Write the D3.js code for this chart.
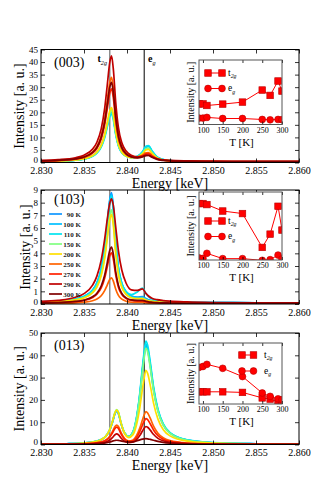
<!DOCTYPE html>
<html>
<head>
<meta charset="utf-8">
<script src="https://cdn.jsdelivr.net/npm/d3@7"></script>
<style>
  body { margin: 0; background: #fff; }
  svg { display: block; font-family: "Liberation Serif", "Times New Roman", serif; }
</style>
</head>
<body>
<div id="chart"></div>
<script>

// ---- data ----
var temps = [ 90, 100, 110, 150, 200, 250, 270, 290, 300 ];
var tempLabels = [ '90 K', '100 K', '110 K', '150 K', '200 K', '250 K', '270 K', '290 K', '300 K' ];
var tempColors = [ '#0f96ff', '#00c0ff', '#00e4f0', '#80ff80', '#ffe000', '#ff6400', '#ff2200', '#c00000', '#800000' ];

var energyTicks = [ 2.830, 2.835, 2.840, 2.845, 2.850, 2.855, 2.860 ];

// energies used for (003) and (103)
var energy003 = [ 2.830, 2.832, 2.834, 2.835, 2.836, 2.8365, 2.837, 2.8374, 2.8377, 2.8380, 2.8382, 2.8384, 2.8387, 2.8390,
  2.8394, 2.8399, 2.8405, 2.8412, 2.8418, 2.8422, 2.8425, 2.8429, 2.8435, 2.8442, 2.845, 2.847, 2.850, 2.855, 2.860 ];

var spectra003 = [
  [ 0.42, 0.57, 0.96, 1.46, 2.68, 4.0, 6.62, 10.6, 15.1, 19.6, 20.9, 18.5, 11.6, 7.0, 4.1, 2.6, 2.0, 2.4, 4.1, 6.1, 6.4, 4.5, 2.15, 1.16, 0.75, 0.42, 0.30, 0.25, 0.23 ],
  [ 0.41, 0.56, 0.94, 1.43, 2.61, 3.9, 6.46, 10.3, 14.7, 19.2, 20.4, 18.0, 11.4, 6.9, 4.0, 2.55, 2.0, 2.4, 4.2, 6.2, 6.5, 4.5, 2.17, 1.17, 0.74, 0.42, 0.30, 0.24, 0.22 ],
  [ 0.39, 0.53, 0.90, 1.36, 2.49, 3.72, 6.15, 9.8, 14.0, 18.2, 19.4, 17.2, 10.8, 6.55, 3.83, 2.47, 1.99, 2.44, 4.3, 6.46, 6.77, 4.69, 2.23, 1.19, 0.74, 0.41, 0.29, 0.23, 0.21 ],
  [ 0.42, 0.57, 0.96, 1.46, 2.67, 3.99, 6.61, 10.56, 15.06, 19.6, 20.85, 18.46, 11.6, 7.0, 4.05, 2.54, 1.95, 2.22, 3.72, 5.49, 5.73, 3.99, 1.95, 1.07, 0.70, 0.40, 0.30, 0.25, 0.23 ],
  [ 0.43, 0.59, 1.0, 1.52, 2.79, 4.18, 6.92, 11.06, 15.77, 20.57, 21.85, 19.34, 12.17, 7.31, 4.2, 2.6, 1.94, 2.11, 3.41, 4.97, 5.17, 3.62, 1.8, 1.01, 0.67, 0.41, 0.30, 0.25, 0.24 ],
  [ 0.66, 0.90, 1.53, 2.33, 4.29, 6.44, 10.7, 17.15, 24.49, 31.94, 33.93, 30.01, 18.8, 11.22, 6.32, 3.75, 2.51, 2.21, 2.89, 3.83, 3.91, 2.84, 1.59, 1.02, 0.76, 0.54, 0.44, 0.38, 0.36 ],
  [ 0.57, 0.78, 1.33, 2.02, 3.71, 5.58, 9.27, 14.85, 21.2, 27.65, 29.37, 25.99, 16.28, 9.72, 5.49, 3.26, 2.2, 1.96, 2.59, 3.47, 3.55, 2.57, 1.42, 0.90, 0.67, 0.47, 0.38, 0.33, 0.31 ],
  [ 0.82, 1.12, 1.90, 2.91, 5.35, 8.05, 13.39, 21.46, 30.66, 39.99, 42.47, 37.57, 23.51, 13.98, 7.83, 4.55, 2.92, 2.27, 2.47, 2.96, 2.96, 2.25, 1.42, 1.02, 0.82, 0.63, 0.53, 0.47, 0.45 ],
  [ 0.62, 0.84, 1.43, 2.19, 4.02, 6.05, 10.05, 16.11, 23.0, 30.01, 31.88, 28.19, 17.65, 10.51, 5.9, 3.46, 2.26, 1.85, 2.18, 2.75, 2.78, 2.06, 1.23, 0.84, 0.66, 0.48, 0.40, 0.36, 0.34 ]
];

var spectra103 = [
  [ 0.17, 0.23, 0.39, 0.60, 1.11, 1.67, 2.77, 4.44, 6.35, 8.28, 8.80, 7.78, 4.87, 2.89, 1.62, 0.94, 0.62, 0.55, 0.58, 0.43, 0.34, 0.26, 0.21, 0.18, 0.15, 0.13, 0.11, 0.10, 0.09 ],
  [ 0.17, 0.23, 0.39, 0.59, 1.09, 1.64, 2.72, 4.37, 6.24, 8.14, 8.64, 7.64, 4.78, 2.84, 1.59, 0.92, 0.60, 0.51, 0.52, 0.39, 0.31, 0.25, 0.20, 0.17, 0.15, 0.12, 0.11, 0.10, 0.09 ],
  [ 0.17, 0.23, 0.38, 0.59, 1.08, 1.62, 2.69, 4.30, 6.15, 8.01, 8.51, 7.53, 4.73, 2.83, 1.61, 0.98, 0.74, 0.95, 1.25, 0.83, 0.58, 0.40, 0.27, 0.21, 0.17, 0.13, 0.11, 0.10, 0.09 ],
  [ 0.14, 0.20, 0.33, 0.51, 0.94, 1.41, 2.34, 3.75, 5.36, 7.0, 7.43, 6.57, 4.11, 2.44, 1.37, 0.79, 0.51, 0.43, 0.44, 0.33, 0.26, 0.21, 0.17, 0.15, 0.13, 0.11, 0.09, 0.08, 0.08 ],
  [ 0.14, 0.19, 0.32, 0.48, 0.89, 1.34, 2.23, 3.57, 5.11, 6.66, 7.08, 6.26, 3.91, 2.33, 1.30, 0.76, 0.49, 0.42, 0.42, 0.32, 0.26, 0.21, 0.17, 0.14, 0.12, 0.10, 0.09, 0.08, 0.07 ],
  [ 0.04, 0.05, 0.09, 0.14, 0.26, 0.39, 0.65, 1.05, 1.49, 1.95, 2.07, 1.83, 1.15, 0.68, 0.38, 0.22, 0.14, 0.12, 0.12, 0.09, 0.07, 0.06, 0.05, 0.04, 0.03, 0.03, 0.03, 0.02, 0.02 ],
  [ 0.08, 0.11, 0.18, 0.28, 0.51, 0.77, 1.27, 2.04, 2.92, 3.81, 4.04, 3.58, 2.24, 1.33, 0.74, 0.43, 0.28, 0.23, 0.23, 0.17, 0.14, 0.11, 0.09, 0.08, 0.07, 0.06, 0.05, 0.04, 0.04 ],
  [ 0.21, 0.29, 0.53, 0.82, 1.49, 2.20, 3.46, 5.10, 6.66, 7.97, 8.30, 7.82, 6.01, 4.22, 2.66, 1.64, 1.12, 1.07, 1.20, 0.84, 0.63, 0.46, 0.34, 0.27, 0.22, 0.16, 0.12, 0.10, 0.09 ],
  [ 0.09, 0.12, 0.20, 0.31, 0.57, 0.85, 1.42, 2.27, 3.25, 4.24, 4.50, 3.98, 2.49, 1.48, 0.83, 0.48, 0.32, 0.28, 0.29, 0.22, 0.17, 0.14, 0.11, 0.09, 0.08, 0.06, 0.05, 0.05, 0.05 ]
];

var energy013 = [ 2.830, 2.833, 2.835, 2.836, 2.837, 2.8375, 2.838, 2.8383, 2.8386, 2.8388, 2.839, 2.8393, 2.8397, 2.8402, 2.8407,
  2.8411, 2.8415, 2.8418, 2.8420, 2.8422, 2.8424, 2.8427, 2.8431, 2.8436, 2.8442, 2.845, 2.847, 2.850, 2.855, 2.860 ];

var spectra013 = [
  [ 0.17, 0.33, 0.66, 1.10, 2.17, 3.49, 6.49, 9.80, 13.72, 14.90, 13.85, 9.44, 5.21, 3.54, 5.55, 11.43, 22.28, 33.26, 39.83, 44.21, 42.44, 35.39, 24.37, 15.12, 8.94, 5.10, 1.95, 0.78, 0.31, 0.16 ],
  [ 0.18, 0.33, 0.67, 1.11, 2.19, 3.52, 6.54, 9.88, 13.83, 15.02, 13.97, 9.52, 5.26, 3.59, 5.64, 11.63, 22.69, 33.86, 40.55, 45.02, 43.21, 36.03, 24.81, 15.39, 9.10, 5.19, 1.98, 0.79, 0.31, 0.16 ],
  [ 0.18, 0.34, 0.68, 1.14, 2.24, 3.60, 6.69, 10.09, 14.12, 15.34, 14.26, 9.73, 5.38, 3.69, 5.81, 11.99, 23.39, 34.91, 41.81, 46.42, 44.55, 37.15, 25.59, 15.87, 9.39, 5.35, 2.04, 0.81, 0.32, 0.17 ],
  [ 0.18, 0.33, 0.68, 1.14, 2.26, 3.66, 6.82, 10.31, 14.45, 15.69, 14.57, 9.90, 5.40, 3.59, 5.48, 11.20, 21.80, 32.52, 38.94, 43.23, 41.49, 34.60, 23.83, 14.79, 8.75, 4.99, 1.91, 0.76, 0.30, 0.16 ],
  [ 0.16, 0.30, 0.63, 1.06, 2.16, 3.53, 6.65, 10.11, 14.20, 15.43, 14.30, 9.63, 5.10, 3.12, 4.38, 8.70, 16.80, 25.02, 29.94, 33.22, 31.89, 26.59, 18.33, 11.38, 6.75, 3.86, 1.49, 0.60, 0.24, 0.13 ],
  [ 0.08, 0.16, 0.34, 0.58, 1.19, 1.97, 3.75, 5.72, 8.04, 8.73, 8.08, 5.41, 2.79, 1.59, 2.03, 3.91, 7.47, 11.10, 13.28, 14.73, 14.14, 11.79, 8.13, 5.06, 3.01, 1.73, 0.67, 0.28, 0.11, 0.06 ],
  [ 0.07, 0.14, 0.29, 0.50, 1.05, 1.75, 3.33, 5.09, 7.17, 7.78, 7.20, 4.80, 2.45, 1.35, 1.65, 3.10, 5.90, 8.76, 10.47, 11.61, 11.15, 9.30, 6.42, 3.99, 2.38, 1.37, 0.54, 0.22, 0.09, 0.05 ],
  [ 0.04, 0.09, 0.18, 0.31, 0.65, 1.07, 2.03, 3.09, 4.35, 4.73, 4.38, 2.93, 1.51, 0.87, 1.11, 2.14, 4.09, 6.08, 7.27, 8.07, 7.74, 6.46, 4.46, 2.77, 1.65, 0.95, 0.37, 0.15, 0.06, 0.03 ],
  [ 0.05, 0.1, 0.2, 0.3, 0.5, 0.7, 1.1, 1.5, 1.8, 1.9, 1.85, 1.6, 1.3, 1.1, 1.2, 1.6, 2.1, 2.4, 2.55, 2.6, 2.55, 2.3, 1.9, 1.4, 0.95, 0.6, 0.25, 0.1, 0.04, 0.02 ]
];

// inset values (arbitrary units, fraction of inset height)
var insetT2g003 = [ 0.32, 0.32, 0.295, 0.316, 0.347, 0.534, 0.451, 0.674, 0.518 ];
var insetEg003  = [ 0.10, 0.10, 0.11, 0.093, 0.093, 0.078, 0.073, 0.078, 0.075 ];
var insetT2g103 = [ 0.83, 0.83, 0.815, 0.72, 0.683, 0.185, 0.38, 0.79, 0.44 ];
var insetEg103  = [ 0.03, 0.024, 0.098, 0.02, 0.02, -0.005, 0.005, 0.073, 0.015 ];
var insetT2g013 = [ 0.20, 0.20, 0.20, 0.20, 0.19, 0.10, 0.08, 0.035, 0.01 ];
var insetEg013  = [ 0.60, 0.615, 0.65, 0.585, 0.45, 0.18, 0.125, 0.085, 0.07 ];

// ---- layout ----
var width = 332, height = 495;
var xLeft = 41, xRight = 299;
var insetLeft = 199, insetRight = 282;

var panels = [
  { name: '(003)', top: 49.5, bottom: 162.5, yMax: 45, yStep: 5, energy: energy003, series: spectra003,
    labelDy: 17, ylabelX: 19, orbitalLabels: true, legend: false,
    inset: { top: 60, bottom: 124.5, t2g: insetT2g003, eg: insetEg003, lx1: 208, lx2: 222, ly1: 73, ly2: 88.5, tx: 228 } },
  { name: '(103)', top: 190, bottom: 304, yMax: 9, yStep: 1, energy: energy003, series: spectra103,
    labelDy: 13.5, ylabelX: 25, orbitalLabels: false, legend: true,
    inset: { top: 192, bottom: 260, t2g: insetT2g103, eg: insetEg103, lx1: 208, lx2: 222, ly1: 221, ly2: 236.5, tx: 228 } },
  { name: '(013)', top: 333, bottom: 444.5, yMax: 50, yStep: 10, energy: energy013, series: spectra013,
    labelDy: 17, ylabelX: 19, orbitalLabels: false, legend: false,
    inset: { top: 343, bottom: 404, t2g: insetT2g013, eg: insetEg013, lx1: 242, lx2: 253.5, ly1: 355, ly2: 371, tx: 264 } }
];

var svg = d3.select( '#chart' ).append( 'svg' )
  .attr( 'width', width )
  .attr( 'height', height );

svg.append( 'rect' ).attr( 'width', width ).attr( 'height', height ).attr( 'fill', '#fff' );

var defs = svg.append( 'defs' );

var xScale = d3.scaleLinear().domain( [ 2.830, 2.860 ] ).range( [ xLeft, xRight ] );

function styleAxis( sel, size ) {
  sel.select( '.domain' ).remove();
  sel.selectAll( 'text' )
    .attr( 'font-family', '"Liberation Serif", "Times New Roman", serif' )
    .attr( 'font-size', size )
    .attr( 'fill', '#000' );
  sel.selectAll( 'line' ).attr( 'stroke', '#000' ).attr( 'stroke-width', 0.8 );
}

function subText( sel, x, y, main, sub, size, bold ) {
  var t = sel.append( 'text' ).attr( 'x', x ).attr( 'y', y ).attr( 'font-size', size ).attr( 'fill', '#000' );
  t.append( 'tspan' ).text( main ).attr( 'font-weight', bold ? 'bold' : null );
  t.append( 'tspan' ).text( sub ).attr( 'font-size', size * 0.62 ).attr( 'dy', size * 0.3 ).attr( 'font-style', 'italic' );
  return t;
}

function drawPanel( p, idx ) {

  var yScale = d3.scaleLinear().domain( [ 0, p.yMax ] ).range( [ p.bottom, p.top ] );
  var yTicks = d3.range( 0, p.yMax + p.yStep / 2, p.yStep );

  var g = svg.append( 'g' );

  defs.append( 'clipPath' ).attr( 'id', 'clip' + idx )
    .append( 'rect' )
      .attr( 'x', xLeft ).attr( 'y', p.top )
      .attr( 'width', xRight - xLeft ).attr( 'height', p.bottom - p.top );

  // reference lines at t2g and eg energies
  g.append( 'line' )
    .attr( 'x1', xScale( 2.838 ) ).attr( 'x2', xScale( 2.838 ) )
    .attr( 'y1', p.top ).attr( 'y2', p.bottom )
    .attr( 'stroke', '#707070' ).attr( 'stroke-width', 1.2 );
  g.append( 'line' )
    .attr( 'x1', xScale( 2.842 ) ).attr( 'x2', xScale( 2.842 ) )
    .attr( 'y1', p.top ).attr( 'y2', p.bottom )
    .attr( 'stroke', '#000' ).attr( 'stroke-width', 1 );

  var line = d3.line()
    .x( ( d, i ) => xScale( p.energy[ i ] ) )
    .y( d => yScale( d ) )
    .curve( d3.curveMonotoneX );

  g.append( 'g' )
    .attr( 'clip-path', 'url(#clip' + idx + ')' )
    .selectAll( 'path' )
    .data( p.series )
    .enter()
    .append( 'path' )
      .attr( 'd', line )
      .attr( 'fill', 'none' )
      .attr( 'stroke', ( d, i ) => tempColors[ i ] )
      .attr( 'stroke-width', 1.7 )
      .attr( 'stroke-linejoin', 'round' );

  // axes, ticks pointing inward
  g.append( 'g' )
    .attr( 'transform', 'translate(0,' + p.bottom + ')' )
    .call( d3.axisBottom( xScale ).tickValues( energyTicks ).tickFormat( d3.format( '.3f' ) )
      .tickSizeInner( -4 ).tickSizeOuter( 0 ).tickPadding( 4.5 ) )
    .call( s => styleAxis( s, 10 ) );

  g.append( 'g' )
    .attr( 'transform', 'translate(0,' + p.top + ')' )
    .call( d3.axisTop( xScale ).tickValues( energyTicks ).tickFormat( '' ).tickSizeInner( -4 ).tickSizeOuter( 0 ) )
    .call( s => styleAxis( s, 10 ) );

  var yAxis = g.append( 'g' )
    .attr( 'transform', 'translate(' + xLeft + ',0)' )
    .call( d3.axisLeft( yScale ).tickValues( yTicks ).tickFormat( d3.format( 'd' ) )
      .tickSizeInner( -4 ).tickSizeOuter( 0 ).tickPadding( 3 ) )
    .call( s => styleAxis( s, 9 ) );

  // lift the zero label a little so it clears the energy tick labels
  yAxis.selectAll( '.tick' ).filter( d => d === 0 ).select( 'text' ).attr( 'y', -2.5 );

  g.append( 'g' )
    .attr( 'transform', 'translate(' + xRight + ',0)' )
    .call( d3.axisRight( yScale ).tickValues( yTicks ).tickFormat( '' ).tickSizeInner( -4 ).tickSizeOuter( 0 ) )
    .call( s => styleAxis( s, 10 ) );

  g.append( 'rect' )
    .attr( 'x', xLeft ).attr( 'y', p.top )
    .attr( 'width', xRight - xLeft ).attr( 'height', p.bottom - p.top )
    .attr( 'fill', 'none' ).attr( 'stroke', '#000' ).attr( 'stroke-width', 1 );

  g.append( 'text' )
    .attr( 'x', ( xLeft + xRight ) / 2 ).attr( 'y', p.bottom + 25.5 )
    .attr( 'text-anchor', 'middle' ).attr( 'font-size', 14 )
    .text( 'Energy [keV]' );

  g.append( 'text' )
    .attr( 'transform', 'translate(' + p.ylabelX + ',' + ( p.top + p.bottom ) / 2 + ') rotate(-90)' )
    .attr( 'text-anchor', 'middle' ).attr( 'dominant-baseline', 'central' )
    .attr( 'font-size', 14 )
    .text( 'Intensity [a. u.]' );

  g.append( 'text' )
    .attr( 'x', 54 ).attr( 'y', p.top + p.labelDy )
    .attr( 'font-size', 14 )
    .text( p.name );

  if( p.orbitalLabels ) {
    subText( g, 97.5, p.top + 12.5, 't', '2g', 10, true );
    subText( g, 148, p.top + 12.5, 'e', 'g', 10, true );
  }

  if( p.legend ) {
    var lg = g.append( 'g' );
    var rows = lg.selectAll( 'g' )
      .data( tempLabels )
      .enter()
      .append( 'g' )
        .attr( 'transform', ( d, i ) => 'translate(0,' + ( 214 + i * 10 ) + ')' );
    rows.append( 'line' )
      .attr( 'x1', 49 ).attr( 'x2', 62 )
      .attr( 'stroke', ( d, i ) => tempColors[ i ] ).attr( 'stroke-width', 1.7 );
    rows.append( 'text' )
      .attr( 'x', 81 ).attr( 'y', 2.5 )
      .attr( 'text-anchor', 'end' ).attr( 'font-size', 7 ).attr( 'font-weight', 'bold' )
      .attr( 'fill', '#222' )
      .text( d => d );
  }

  drawInset( p.inset, idx );
}

function drawInset( ins, idx ) {

  var ix = d3.scaleLinear().domain( [ 90, 300 ] ).range( [ insetLeft, insetRight ] );
  var iy = d3.scaleLinear().domain( [ 0, 1 ] ).range( [ ins.bottom, ins.top ] );

  var g = svg.append( 'g' );

  g.append( 'rect' )
    .attr( 'x', insetLeft ).attr( 'y', ins.top )
    .attr( 'width', insetRight - insetLeft ).attr( 'height', ins.bottom - ins.top )
    .attr( 'fill', '#fff' );

  defs.append( 'clipPath' ).attr( 'id', 'iclip' + idx )
    .append( 'rect' )
      .attr( 'x', insetLeft ).attr( 'y', ins.top )
      .attr( 'width', insetRight - insetLeft ).attr( 'height', ins.bottom - ins.top );

  var plot = g.append( 'g' ).attr( 'clip-path', 'url(#iclip' + idx + ')' );

  var line = d3.line().x( ( d, i ) => ix( temps[ i ] ) ).y( d => iy( d ) );

  [ ins.t2g, ins.eg ].forEach( function( vals, k ) {
    plot.append( 'path' )
      .attr( 'd', line( vals ) )
      .attr( 'fill', 'none' ).attr( 'stroke', '#f00' ).attr( 'stroke-width', 1 );
    var marks = plot.selectAll( null ).data( vals ).enter();
    if( k === 0 ) {
      marks.append( 'rect' )
        .attr( 'x', ( d, i ) => ix( temps[ i ] ) - 3.3 ).attr( 'y', d => iy( d ) - 3.3 )
        .attr( 'width', 6.6 ).attr( 'height', 6.6 )
        .attr( 'fill', '#f00' ).attr( 'stroke', '#b00' ).attr( 'stroke-width', 0.6 );
    } else {
      marks.append( 'circle' )
        .attr( 'cx', ( d, i ) => ix( temps[ i ] ) ).attr( 'cy', d => iy( d ) ).attr( 'r', 3.4 )
        .attr( 'fill', '#f00' ).attr( 'stroke', '#b00' ).attr( 'stroke-width', 0.6 );
    }
  } );

  // legend inside inset
  g.append( 'line' ).attr( 'x1', ins.lx1 ).attr( 'x2', ins.lx2 ).attr( 'y1', ins.ly1 ).attr( 'y2', ins.ly1 )
    .attr( 'stroke', '#f00' ).attr( 'stroke-width', 1 );
  [ ins.lx1, ins.lx2 ].forEach( function( lx ) {
    g.append( 'rect' ).attr( 'x', lx - 3.3 ).attr( 'y', ins.ly1 - 3.3 ).attr( 'width', 6.6 ).attr( 'height', 6.6 )
      .attr( 'fill', '#f00' ).attr( 'stroke', '#b00' ).attr( 'stroke-width', 0.6 );
  } );
  g.append( 'line' ).attr( 'x1', ins.lx1 ).attr( 'x2', ins.lx2 ).attr( 'y1', ins.ly2 ).attr( 'y2', ins.ly2 )
    .attr( 'stroke', '#f00' ).attr( 'stroke-width', 1 );
  [ ins.lx1, ins.lx2 ].forEach( function( lx ) {
    g.append( 'circle' ).attr( 'cx', lx ).attr( 'cy', ins.ly2 ).attr( 'r', 3.4 )
      .attr( 'fill', '#f00' ).attr( 'stroke', '#b00' ).attr( 'stroke-width', 0.6 );
  } );
  subText( g, ins.tx, ins.ly1 + 2.5, 't', '2g', 9.5, false );
  subText( g, ins.tx, ins.ly2 + 2.5, 'e', 'g', 9.5, false );

  // axes
  g.append( 'g' )
    .attr( 'transform', 'translate(0,' + ins.bottom + ')' )
    .call( d3.axisBottom( ix ).tickValues( [ 100, 150, 200, 250, 300 ] ).tickFormat( d3.format( 'd' ) )
      .tickSizeInner( -3 ).tickSizeOuter( 0 ).tickPadding( 2.5 ) )
    .call( s => styleAxis( s, 8 ) );

  g.append( 'g' )
    .attr( 'transform', 'translate(0,' + ins.top + ')' )
    .call( d3.axisTop( ix ).tickValues( [ 100, 150, 200, 250, 300 ] ).tickFormat( '' ).tickSizeInner( -3 ).tickSizeOuter( 0 ) )
    .call( s => styleAxis( s, 8 ) );

  g.append( 'rect' )
    .attr( 'x', insetLeft ).attr( 'y', ins.top )
    .attr( 'width', insetRight - insetLeft ).attr( 'height', ins.bottom - ins.top )
    .attr( 'fill', 'none' ).attr( 'stroke', '#555' ).attr( 'stroke-width', 1 );

  g.append( 'text' )
    .attr( 'x', ( insetLeft + insetRight ) / 2 + 1 ).attr( 'y', ins.bottom + 21 )
    .attr( 'text-anchor', 'middle' ).attr( 'font-size', 11 )
    .text( 'T [K]' );

  g.append( 'text' )
    .attr( 'transform', 'translate(190.5,' + ( ins.top + ins.bottom ) / 2 + ') rotate(-90)' )
    .attr( 'text-anchor', 'middle' ).attr( 'dominant-baseline', 'central' )
    .attr( 'font-size', 10 )
    .text( 'Intensity [a. u.]' );
}

panels.forEach( drawPanel );

</script>
</body>
</html>
